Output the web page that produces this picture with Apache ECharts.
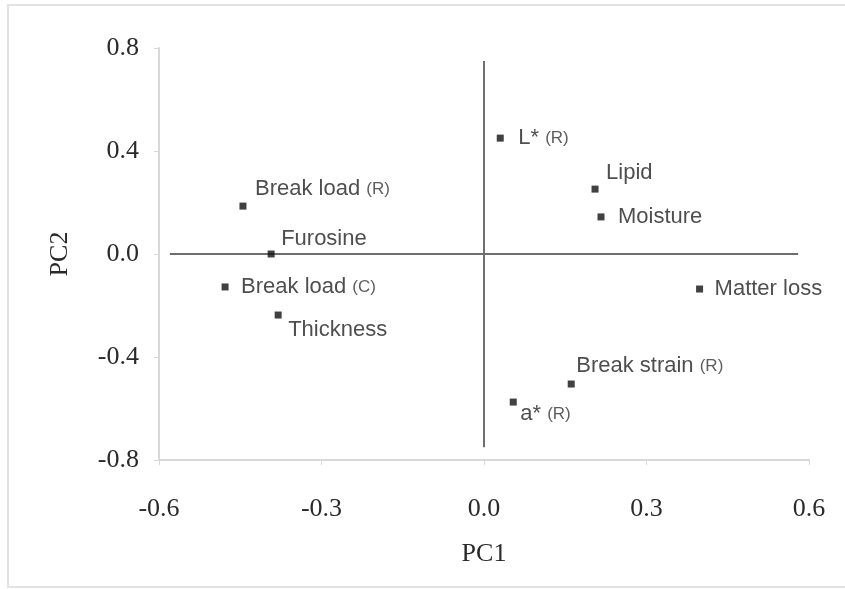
<!DOCTYPE html>
<html>
<head>
<meta charset="utf-8">
<script src="https://cdn.jsdelivr.net/npm/echarts@6/dist/echarts.min.js"></script>
<style>
html,body{margin:0;padding:0;background:#fff;}
#chart{width:845px;height:589px;}
</style>
</head>
<body>
<div id="chart"></div>
<script>
// ---- data ----
const names = ['Break load', 'Furosine', 'Break load', 'Thickness', 'L*', 'Lipid', 'Moisture', 'Matter loss', 'Break strain', 'a*'];
const suffixes = ['(R)', '', '(C)', '', '(R)', '', '', '', '(R)', '(R)'];
const pc1 = [-0.445, -0.393, -0.478, -0.380, 0.030, 0.205, 0.216, 0.398, 0.161, 0.054];
const pc2 = [0.186, 0.000, -0.128, -0.237, 0.450, 0.252, 0.144, -0.136, -0.505, -0.575];
const xTicks = [-0.6, -0.3, 0.0, 0.3, 0.6];
const yTicks = [-0.8, -0.4, 0.0, 0.4, 0.8];
const hLine = [[-0.58, 0], [0.58, 0]];
const vLine = [[0, -0.75], [0, 0.75]];

// ---- label layout (style only) ----
const labelOffsets = [[12,-17],[10,-15],[16,0],[10,15],[18,0],[11,-16],[17,0],[15,0],[5,-18],[7,12]];

const chart = echarts.init(document.getElementById('chart'));
const pts = pc1.map((x, i) => ({
  value: [x, pc2[i]],
  label: {
    show: true,
    position: 'right',
    distance: 0,
    offset: [labelOffsets[i][0] - 3.5, labelOffsets[i][1]],
    formatter: suffixes[i] ? names[i] + ' {s|' + suffixes[i] + '}' : names[i]
  }
}));

const serif = '"Liberation Serif", "Times New Roman", serif';
const sans = '"Liberation Sans", Arial, sans-serif';

chart.setOption({
  animation: false,
  backgroundColor: '#fff',
  graphic: [{
    type: 'rect',
    shape: {x: 8, y: 5, width: 860, height: 582},
    style: {fill: 'none', stroke: '#e2e2e2', lineWidth: 2},
    silent: true
  }],
  grid: {left: 159, right: 36, top: 48, bottom: 129},
  xAxis: {
    type: 'value', min: xTicks[0], max: xTicks[xTicks.length-1], interval: 0.3,
    name: 'PC1', nameLocation: 'middle', nameGap: 81,
    nameTextStyle: {fontFamily: serif, fontSize: 26, color: '#2a2a2a'},
    axisLine: {onZero: false, lineStyle: {color: '#d8d8d8', width: 2}},
    axisTick: {show: true, length: 5, lineStyle: {color: '#d8d8d8'}},
    splitLine: {show: false},
    axisLabel: {margin: 36, fontFamily: serif, fontSize: 26, color: '#2a2a2a',
      formatter: v => v.toFixed(1)}
  },
  yAxis: {
    type: 'value', min: yTicks[0], max: yTicks[yTicks.length-1], interval: 0.4,
    name: 'PC2', nameLocation: 'middle', nameGap: 86,
    nameTextStyle: {fontFamily: serif, fontSize: 26, color: '#2a2a2a'},
    axisLine: {onZero: false, lineStyle: {color: '#d8d8d8', width: 2}},
    axisTick: {show: true, length: 5, lineStyle: {color: '#d8d8d8'}},
    splitLine: {show: false},
    axisLabel: {margin: 20, fontFamily: serif, fontSize: 26, color: '#2a2a2a',
      formatter: v => v.toFixed(1)}
  },
  series: [
    {type: 'line', data: hLine, symbol: 'none', silent: true,
      lineStyle: {color: '#6e6e6e', width: 2}, z: 1},
    {type: 'line', data: vLine, symbol: 'none', silent: true,
      lineStyle: {color: '#6e6e6e', width: 2}, z: 1},
    {
      type: 'scatter',
      symbol: 'rect',
      symbolSize: 7,
      itemStyle: {color: '#111'},
      z: 3,
      label: {
        fontFamily: sans, fontSize: 22, color: '#222',
        rich: {s: {fontFamily: sans, fontSize: 17, color: '#333'}}
      },
      data: pts
    }
  ]
});
</script>
</body>
</html>
